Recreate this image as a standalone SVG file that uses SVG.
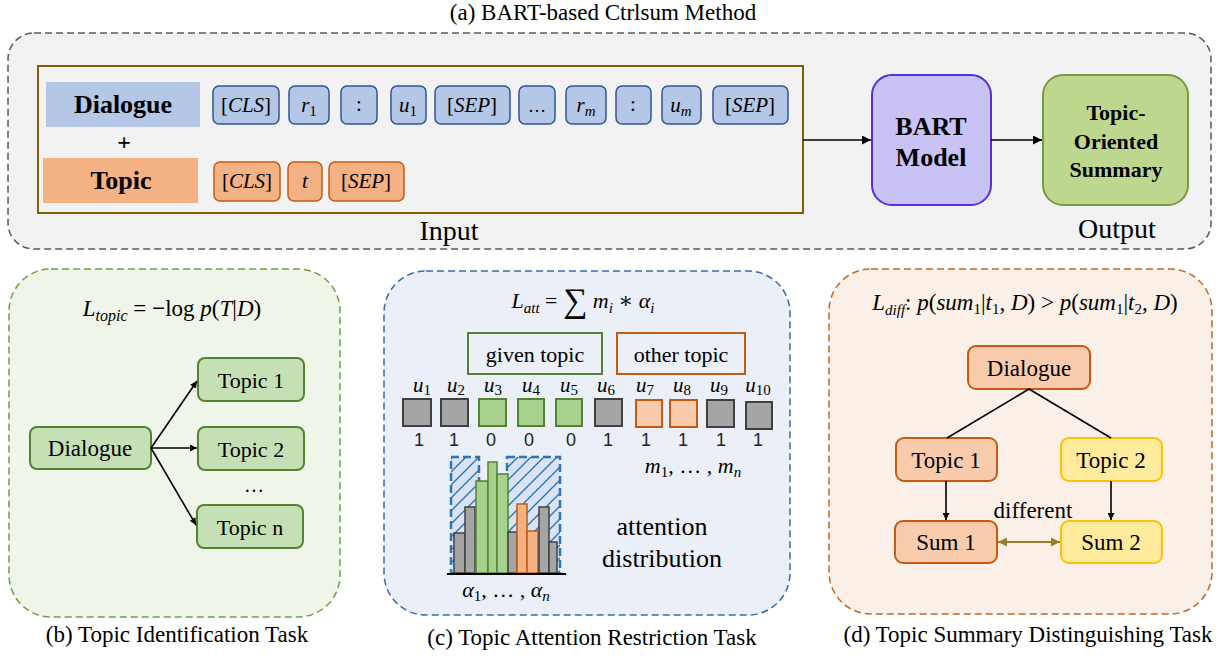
<svg xmlns="http://www.w3.org/2000/svg" width="1229" height="656" viewBox="0 0 1229 656">
<style>
text{font-family:'Liberation Serif','Times New Roman',Tinos,'DejaVu Serif',serif;fill:#000}
.b{font-weight:bold}
.i{font-style:italic}
text.s{font-family:'Liberation Sans',Arial,sans-serif;fill:#222}
.tokB{fill:#b4c7e7;stroke:#2f5597;stroke-width:1.5}
.tokO{fill:#f4b183;stroke:#c55a11;stroke-width:1.5}
.gn{fill:#c5e0b4;stroke:#548235;stroke-width:2}
.on{fill:#f8cbad;stroke:#c55a11;stroke-width:2}
.yn{fill:#ffeb9c;stroke:#ffc000;stroke-width:2}
.sqG{fill:#a5a5a5;stroke:#404040;stroke-width:2}
.sqV{fill:#a9d18e;stroke:#548235;stroke-width:2}
.sqO{fill:#f8cbad;stroke:#c55a11;stroke-width:2}
.barG{fill:#a5a5a5;stroke:#404040;stroke-width:1.5}
.barV{fill:#a9d18e;stroke:#548235;stroke-width:1.5}
.barO{fill:#f4b183;stroke:#c55a11;stroke-width:1.5}
.edge{stroke:#000;stroke-width:1.6;fill:none}
</style>
<defs>
<marker id="ah" viewBox="0 0 10 10" refX="10" refY="5" markerWidth="7" markerHeight="7" markerUnits="userSpaceOnUse" orient="auto"><path d="M0,0 L10,5 L0,10 z" fill="#000"/></marker>
<marker id="ah2" viewBox="0 0 10 10" refX="10" refY="5" markerWidth="9" markerHeight="9" markerUnits="userSpaceOnUse" orient="auto"><path d="M0,0 L10,5 L0,10 z" fill="#000"/></marker>
<marker id="ahGold" viewBox="0 0 10 10" refX="10" refY="5" markerWidth="9" markerHeight="9" markerUnits="userSpaceOnUse" orient="auto-start-reverse"><path d="M0,0 L10,5 L0,10 z" fill="#a07a2c"/></marker>
<pattern id="hatch" patternUnits="userSpaceOnUse" width="13" height="13">
<rect width="13" height="13" fill="#dae3f3"/>
<path d="M0,13 L13,0 M-3,3 L3,-3 M10,16 L16,10" stroke="#2e75b6" stroke-width="1.4"/>
</pattern>
</defs>

<!-- (a) -->
<g id="panel-a">
<text x="603" y="20" font-size="23" text-anchor="middle">(a) BART-based Ctrlsum Method</text>
<rect x="8" y="33" width="1203" height="216" rx="26" fill="#f2f2f2" stroke="#595959" stroke-width="1.5" stroke-dasharray="7,4"/>
</g>
<g id="input">
<rect x="38" y="66" width="765" height="147" fill="none" stroke="#7f6000" stroke-width="2"/>
<text x="449" y="240" font-size="28" text-anchor="middle">Input</text>
</g>
<g id="dialogue-label">
<rect x="46" y="82" width="154" height="45" fill="#b4c7e7"/>
<text class="b" x="123" y="113" font-size="26" text-anchor="middle">Dialogue</text>
</g>
<text class="b" x="124" y="150" font-size="24" text-anchor="middle">+</text>
<g id="topic-label">
<rect x="43" y="158" width="155" height="45" fill="#f4b183"/>
<text class="b" x="121" y="189" font-size="26" text-anchor="middle">Topic</text>
</g>
<g id="dialogue-tokens">
<rect class="tokB" x="213" y="86" width="66" height="38" rx="6"/>
<text x="246" y="112" font-size="21" text-anchor="middle">[<tspan class="i">CLS</tspan>]</text>
<rect class="tokB" x="289" y="86" width="40" height="38" rx="6"/>
<text class="i" x="309" y="112" font-size="21" text-anchor="middle">r<tspan font-size="15" dy="4" font-style="normal">1</tspan></text>
<rect class="tokB" x="341" y="86" width="36" height="38" rx="6"/>
<text x="359" y="111" font-size="21" text-anchor="middle">:</text>
<rect class="tokB" x="391" y="86" width="35" height="38" rx="6"/>
<text class="i" x="408" y="112" font-size="21" text-anchor="middle">u<tspan font-size="15" dy="4" font-style="normal">1</tspan></text>
<rect class="tokB" x="435" y="86" width="75" height="38" rx="6"/>
<text x="472" y="112" font-size="21" text-anchor="middle">[<tspan class="i">SEP</tspan>]</text>
<rect class="tokB" x="519" y="86" width="36" height="38" rx="6"/>
<text x="537" y="112" font-size="18" text-anchor="middle">…</text>
<rect class="tokB" x="566" y="86" width="40" height="38" rx="6"/>
<text class="i" x="586" y="112" font-size="21" text-anchor="middle">r<tspan font-size="15" dy="4">m</tspan></text>
<rect class="tokB" x="616" y="86" width="35" height="38" rx="6"/>
<text x="633" y="111" font-size="21" text-anchor="middle">:</text>
<rect class="tokB" x="662" y="86" width="39" height="38" rx="6"/>
<text class="i" x="681" y="112" font-size="21" text-anchor="middle">u<tspan font-size="15" dy="4">m</tspan></text>
<rect class="tokB" x="713" y="86" width="75" height="38" rx="6"/>
<text x="750" y="112" font-size="21" text-anchor="middle">[<tspan class="i">SEP</tspan>]</text>
</g>
<g id="topic-tokens">
<rect class="tokO" x="214" y="162" width="66" height="39" rx="6"/>
<text x="247" y="188" font-size="21" text-anchor="middle">[<tspan class="i">CLS</tspan>]</text>
<rect class="tokO" x="288" y="162" width="34" height="39" rx="6"/>
<text class="i" x="305" y="188" font-size="21" text-anchor="middle">t</text>
<rect class="tokO" x="329" y="162" width="75" height="39" rx="6"/>
<text x="366" y="188" font-size="21" text-anchor="middle">[<tspan class="i">SEP</tspan>]</text>
</g>
<g id="bart">
<rect x="872" y="75" width="119" height="130" rx="20" fill="#c9c2f5" stroke="#5b2be0" stroke-width="2"/>
<text class="b" x="931" y="135" font-size="26" text-anchor="middle">BART</text>
<text class="b" x="931" y="166" font-size="26" text-anchor="middle">Model</text>
</g>
<g id="summary">
<rect x="1043" y="75" width="145" height="130" rx="20" fill="#bdd88e" stroke="#7a9a40" stroke-width="2"/>
<text class="b" x="1116" y="120" font-size="22" text-anchor="middle">Topic-</text>
<text class="b" x="1116" y="149" font-size="22" text-anchor="middle">Oriented</text>
<text class="b" x="1116" y="177" font-size="22" text-anchor="middle">Summary</text>
<text x="1117" y="238" font-size="28" text-anchor="middle">Output</text>
</g>

<!-- (b) -->
<g id="panel-b">
<rect x="9" y="269" width="331" height="348" rx="42" fill="#eff5e9" stroke="#6f9e45" stroke-width="1.5" stroke-dasharray="7,4"/>
<text x="172" y="316" font-size="23" text-anchor="middle"><tspan class="i">L</tspan><tspan class="i" font-size="16" dy="5">topic</tspan><tspan dy="-5"> = </tspan><tspan font-weight="bold">−</tspan>log <tspan class="i">p</tspan>(<tspan class="i">T</tspan>|<tspan class="i">D</tspan>)</text>
<text x="177" y="642" font-size="23" text-anchor="middle">(b) Topic Identification Task</text>
</g>
<g id="b-dialogue">
<rect class="gn" x="30" y="427" width="121" height="42" rx="7"/>
<text x="90" y="456" font-size="23" text-anchor="middle">Dialogue</text>
</g>
<g id="b-topic1">
<rect class="gn" x="198" y="358" width="106" height="43" rx="7"/>
<text x="251" y="388" font-size="22" text-anchor="middle">Topic 1</text>
</g>
<g id="b-topic2">
<rect class="gn" x="198" y="427" width="106" height="43" rx="7"/>
<text x="251" y="457" font-size="22" text-anchor="middle">Topic 2</text>
</g>
<text x="254" y="492" font-size="20" text-anchor="middle">…</text>
<g id="b-topicn">
<rect class="gn" x="197" y="505" width="106" height="43" rx="7"/>
<text x="250" y="535" font-size="22" text-anchor="middle">Topic n</text>
</g>

<!-- (c) -->
<g id="panel-c">
<rect x="384" y="271" width="406" height="344" rx="42" fill="#eaeff8" stroke="#3a6bb0" stroke-width="1.5" stroke-dasharray="7,4"/>
<text x="583" y="308" font-size="22" text-anchor="middle"><tspan class="i">L</tspan><tspan class="i" font-size="15" dy="5">att</tspan><tspan dy="-5"> = </tspan><tspan font-size="34" dy="4">∑</tspan><tspan dy="-4" class="i"> m</tspan><tspan class="i" font-size="15" dy="5">i</tspan><tspan dy="-5"> ∗ </tspan><tspan class="i">α</tspan><tspan class="i" font-size="15" dy="5">i</tspan></text>
<text x="592" y="645" font-size="23" text-anchor="middle">(c) Topic Attention Restriction Task</text>
</g>
<g id="given-topic">
<rect x="468" y="333" width="134" height="41" fill="none" stroke="#548235" stroke-width="2"/>
<text x="535" y="362" font-size="22" text-anchor="middle">given topic</text>
</g>
<g id="other-topic">
<rect x="617" y="333" width="128" height="41" fill="none" stroke="#c55a11" stroke-width="2"/>
<text x="681" y="362" font-size="22" text-anchor="middle">other topic</text>
</g>
<g id="utterances">
<g font-size="21" text-anchor="middle">
<text class="i" x="422" y="392">u<tspan font-size="15" dy="3" font-style="normal">1</tspan></text>
<text class="i" x="456" y="392">u<tspan font-size="15" dy="3" font-style="normal">2</tspan></text>
<text class="i" x="493" y="392">u<tspan font-size="15" dy="3" font-style="normal">3</tspan></text>
<text class="i" x="531" y="392">u<tspan font-size="15" dy="3" font-style="normal">4</tspan></text>
<text class="i" x="569" y="392">u<tspan font-size="15" dy="3" font-style="normal">5</tspan></text>
<text class="i" x="606" y="392">u<tspan font-size="15" dy="3" font-style="normal">6</tspan></text>
<text class="i" x="645" y="392">u<tspan font-size="15" dy="3" font-style="normal">7</tspan></text>
<text class="i" x="682" y="392">u<tspan font-size="15" dy="3" font-style="normal">8</tspan></text>
<text class="i" x="719" y="392">u<tspan font-size="15" dy="3" font-style="normal">9</tspan></text>
<text class="i" x="758" y="392">u<tspan font-size="15" dy="3" font-style="normal">10</tspan></text>
</g>
<rect class="sqG" x="403" y="399" width="28" height="27"/>
<rect class="sqG" x="441" y="399" width="27" height="27"/>
<rect class="sqV" x="479" y="399" width="27" height="27"/>
<rect class="sqV" x="518" y="399" width="26" height="27"/>
<rect class="sqV" x="556" y="399" width="26" height="27"/>
<rect class="sqG" x="595" y="399" width="27" height="27"/>
<rect class="sqO" x="636" y="400" width="26" height="27"/>
<rect class="sqO" x="670" y="400" width="27" height="27"/>
<rect class="sqG" x="707" y="400" width="27" height="27"/>
<rect class="sqG" x="746" y="402" width="26" height="27"/>
<g font-size="18" text-anchor="middle">
<text class="s" x="419" y="446">1</text><text class="s" x="454" y="446">1</text><text class="s" x="491" y="446">0</text><text class="s" x="529" y="446">0</text><text class="s" x="571" y="446">0</text>
<text class="s" x="608" y="446">1</text><text class="s" x="646" y="446">1</text><text class="s" x="683" y="446">1</text><text class="s" x="721" y="446">1</text><text class="s" x="758" y="446">1</text>
</g>
<text class="i" x="693" y="473" font-size="22" text-anchor="middle">m<tspan font-size="15" dy="4" font-style="normal">1</tspan><tspan dy="-4" font-style="normal">, … , </tspan>m<tspan font-size="15" dy="4">n</tspan></text>
</g>
<g id="attention-histogram">
<rect x="451" y="457" width="28" height="116" fill="url(#hatch)" stroke="#2e75b6" stroke-width="2.5" stroke-dasharray="8,4"/>
<rect x="507" y="457" width="53" height="116" fill="url(#hatch)" stroke="#2e75b6" stroke-width="2.5" stroke-dasharray="8,4"/>
<rect class="barG" x="454" y="533" width="11" height="40"/>
<rect class="barG" x="465" y="507" width="10" height="66"/>
<rect class="barV" x="476" y="481" width="12" height="92"/>
<rect class="barV" x="488" y="462" width="9" height="111"/>
<rect class="barV" x="497" y="474" width="11" height="99"/>
<rect class="barG" x="508" y="532" width="9" height="41"/>
<rect class="barO" x="517" y="504" width="10" height="69"/>
<rect class="barO" x="527" y="531" width="11" height="42"/>
<rect class="barG" x="539" y="507" width="10" height="66"/>
<rect class="barG" x="549" y="542" width="8" height="31"/>
<line x1="447" y1="574" x2="566" y2="574" stroke="#000" stroke-width="2"/>
<text class="i" x="506" y="597" font-size="22" text-anchor="middle">α<tspan font-size="15" dy="4" font-style="normal">1</tspan><tspan dy="-4" font-style="normal">, … , </tspan>α<tspan font-size="15" dy="4">n</tspan></text>
<text x="662" y="535" font-size="26" text-anchor="middle">attention</text>
<text x="662" y="567" font-size="26" text-anchor="middle">distribution</text>
</g>

<!-- (d) -->
<g id="panel-d">
<rect x="829" y="269" width="383" height="345" rx="42" fill="#fbf0e7" stroke="#c8641e" stroke-width="1.5" stroke-dasharray="7,4"/>
<text x="1025" y="310" font-size="23" text-anchor="middle"><tspan class="i">L</tspan><tspan class="i" font-size="15" dy="5">diff</tspan><tspan dy="-5">: </tspan><tspan class="i">p</tspan>(<tspan class="i">sum</tspan><tspan font-size="15" dy="4">1</tspan><tspan dy="-4">|</tspan><tspan class="i">t</tspan><tspan font-size="15" dy="4">1</tspan><tspan dy="-4">, </tspan><tspan class="i">D</tspan>) &gt; <tspan class="i">p</tspan>(<tspan class="i">sum</tspan><tspan font-size="15" dy="4">1</tspan><tspan dy="-4">|</tspan><tspan class="i">t</tspan><tspan font-size="15" dy="4">2</tspan><tspan dy="-4">, </tspan><tspan class="i">D</tspan>)</text>
<text x="1028" y="642" font-size="23" text-anchor="middle">(d) Topic Summary Distinguishing Task</text>
</g>
<g id="d-dialogue">
<rect class="on" x="968" y="346" width="122" height="43" rx="8"/>
<text x="1029" y="376" font-size="23" text-anchor="middle">Dialogue</text>
</g>
<g id="d-topic1">
<rect class="on" x="896" y="438" width="101" height="43" rx="8"/>
<text x="946" y="468" font-size="23" text-anchor="middle">Topic 1</text>
</g>
<g id="d-topic2">
<rect class="yn" x="1061" y="438" width="101" height="43" rx="8"/>
<text x="1111" y="468" font-size="23" text-anchor="middle">Topic 2</text>
</g>
<g id="d-sum1">
<rect class="on" x="895" y="521" width="102" height="42" rx="8"/>
<text x="946" y="550" font-size="23" text-anchor="middle">Sum 1</text>
</g>
<g id="d-sum2">
<rect class="yn" x="1061" y="521" width="101" height="42" rx="8"/>
<text x="1111" y="550" font-size="23" text-anchor="middle">Sum 2</text>
</g>
<text x="1033" y="518" font-size="23" text-anchor="middle">different</text>

<!-- connectors -->
<g id="connectors">
<line class="edge" x1="803" y1="140" x2="871" y2="140" marker-end="url(#ah2)"/>
<line class="edge" x1="991" y1="140" x2="1042" y2="140" marker-end="url(#ah2)"/>
<line class="edge" x1="151" y1="448" x2="197" y2="381" marker-end="url(#ah)"/>
<line class="edge" x1="151" y1="448" x2="197" y2="448" marker-end="url(#ah)"/>
<line class="edge" x1="151" y1="448" x2="196" y2="525" marker-end="url(#ah)"/>
<line class="edge" x1="1029" y1="389" x2="947" y2="438"/>
<line class="edge" x1="1029" y1="389" x2="1111" y2="438"/>
<line class="edge" x1="946" y1="481" x2="946" y2="520" marker-end="url(#ah)"/>
<line class="edge" x1="1111" y1="481" x2="1111" y2="520" marker-end="url(#ah)"/>
<line x1="998" y1="542" x2="1060" y2="542" stroke="#a07a2c" stroke-width="2" marker-start="url(#ahGold)" marker-end="url(#ahGold)"/>
</g>
</svg>
